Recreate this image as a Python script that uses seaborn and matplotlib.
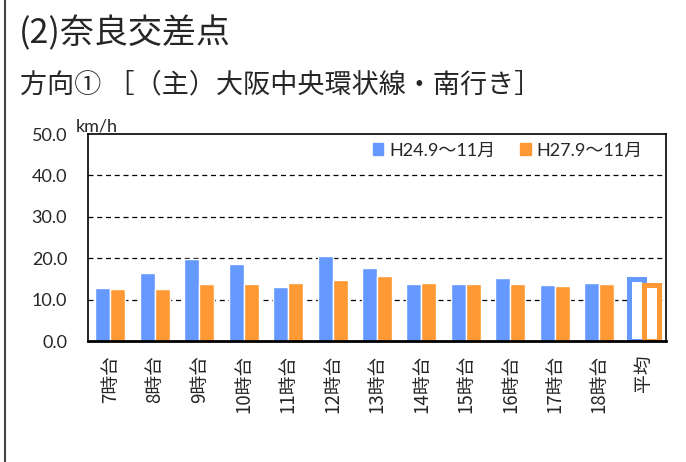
import pandas as pd
import seaborn as sns
import matplotlib.pyplot as plt
from matplotlib.lines import Line2D

# Data (km/h)
hours = ['7時台', '8時台', '9時台', '10時台', '11時台', '12時台', '13時台',
         '14時台', '15時台', '16時台', '17時台', '18時台', '平均']
speed_h24 = [12.7, 16.4, 19.7, 18.7, 13.1, 20.5, 17.7, 13.7, 13.7, 15.3, 13.5, 14.0, 14.9]
speed_h27 = [12.6, 12.6, 13.7, 13.7, 13.9, 14.7, 15.6, 13.9, 13.7, 13.7, 13.3, 13.7, 13.6]
periods = ['H24.9～11月', 'H27.9～11月']

blue = '#6699FF'
orange = '#FF9933'

df = pd.DataFrame({
    'hour': hours * 2,
    'speed': speed_h24 + speed_h27,
    'period': [periods[0]] * len(hours) + [periods[1]] * len(hours),
})

sns.set_style('white')
plt.rcParams['font.family'] = ['Lato', 'Noto Sans CJK JP']

fig = plt.figure(figsize=(6.86, 4.62), dpi=100)
ax = fig.add_axes([88 / 686, 1 - 341 / 462, 578 / 686, 207 / 462])

sns.barplot(data=df, x='hour', y='speed', hue='period', palette=[blue, orange],
            width=0.675, saturation=1, ax=ax, legend=False)

# the average bars are drawn as outlines
for cont, col in zip(ax.containers, [blue, orange]):
    bar = cont[-1]
    bar.set_facecolor('white')
    bar.set_edgecolor(col)
    bar.set_linewidth(3.6)

ax.set_ylim(0, 50)
ax.set_yticks([0, 10, 20, 30, 40, 50])
ax.set_yticklabels([f'{v:.1f}' for v in [0, 10, 20, 30, 40, 50]], fontsize=13)
ax.tick_params(axis='y', length=0, pad=15)
ax.set_xlim(-0.5, len(hours) - 0.5)
ax.set_xticks([i - 0.5 for i in range(len(hours) + 1)], minor=False)
ax.set_xticklabels([])
ax.set_xticks(range(len(hours)), minor=True)
ax.set_xticklabels(hours, minor=True, rotation=90, fontsize=13.5,
                   family=['Noto Sans CJK JP'])
ax.tick_params(axis='x', which='major', length=5, width=1, color='black', direction='out')
ax.tick_params(axis='x', which='minor', length=0, pad=10)
for lab in ax.get_xticklabels(minor=True):
    lab.set_va('top')
ax.set_xlabel('')
ax.set_ylabel('')

for y in [10, 20, 30, 40]:
    ax.axhline(y, color='black', lw=0.9, ls=(0, (4, 3)), zorder=0)

for side in ['top', 'right', 'left']:
    ax.spines[side].set_color('black')
    ax.spines[side].set_linewidth(1.2)
ax.spines['bottom'].set_color('black')
ax.spines['bottom'].set_linewidth(2)

handles = [plt.Rectangle((0, 0), 1, 1, color=blue), plt.Rectangle((0, 0), 1, 1, color=orange)]
ax.legend(handles, periods, loc='center left', bbox_to_anchor=(0.48, 0.92), ncol=2,
          frameon=False, fontsize=13, handlelength=0.6, handleheight=0.6,
          handletextpad=0.3, columnspacing=1.4, borderaxespad=0)

fig.text(76 / 686, 1 - 131 / 462, 'km/h', fontsize=13, va='baseline')
fig.text(19 / 686, 1 - 43 / 462, '(2)奈良交差点', fontsize=24.5,
         family=['Noto Sans CJK JP'], va='baseline')
fig.text(20 / 686, 1 - 92 / 462, '方向① ［（主）大阪中央環状線・南行き］', fontsize=19.5,
         family=['Noto Sans CJK JP'], va='baseline')

fig.add_artist(Line2D([5 / 686, 5 / 686], [0, 1], color='#444444', lw=1.5))

fig.savefig('out.png', dpi=100)
